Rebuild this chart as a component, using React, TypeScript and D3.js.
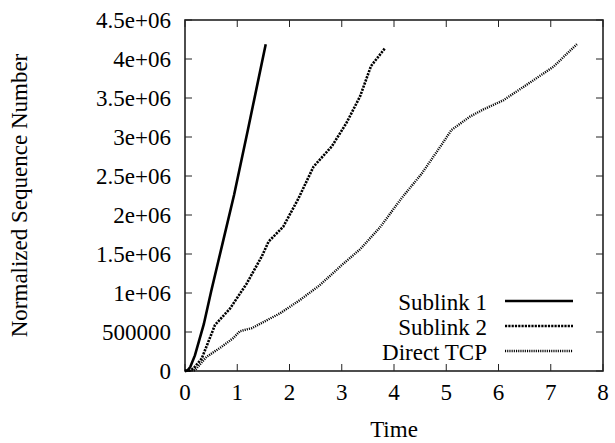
import React from "react";
import * as d3 from "d3";

const sublink1: [number, number][] = [
  [0, 0], [0.05, 10000], [0.1, 50000], [0.19, 200000], [0.36, 600000],
  [0.5, 1020000], [0.72, 1640000], [0.94, 2260000], [1.2, 3080000], [1.545, 4190000],
];
const sublink2: [number, number][] = [
  [0, 0], [0.08, 5000], [0.16, 30000], [0.32, 160000], [0.574, 590000],
  [0.86, 800000], [1.18, 1120000], [1.47, 1470000], [1.6, 1660000], [1.88, 1850000],
  [2.17, 2210000], [2.46, 2620000], [2.81, 2880000], [3.09, 3180000], [3.35, 3520000],
  [3.56, 3910000], [3.83, 4140000],
];
const directTcp: [number, number][] = [
  [0, 0], [0.19, 10000], [0.41, 180000], [0.7, 310000], [0.92, 420000], [1.05, 510000],
  [1.28, 550000], [1.82, 740000], [2.2, 910000], [2.58, 1100000], [2.97, 1340000],
  [3.35, 1560000], [3.73, 1840000], [4.15, 2220000], [4.53, 2530000], [4.91, 2900000],
  [5.1, 3090000], [5.45, 3260000], [5.7, 3350000], [6.09, 3470000], [6.54, 3670000],
  [7.05, 3900000], [7.5, 4190000],
];
const seriesNames = ["Sublink 1", "Sublink 2", "Direct TCP"];
const xTicks = [0, 1, 2, 3, 4, 5, 6, 7, 8];
const yTicks = [0, 500000, 1000000, 1500000, 2000000, 2500000, 3000000, 3500000, 4000000, 4500000];
const yTickLabels = ["0", "500000", "1e+06", "1.5e+06", "2e+06", "2.5e+06", "3e+06", "3.5e+06", "4e+06", "4.5e+06"];

const W = 615, H = 443;
const L = 185, R = 603, T = 20, B = 371;
const FONT = "Liberation Serif";
const FS = 23;

export default function App() {
  const x = d3.scaleLinear().domain([0, 8]).range([L, R]);
  const y = d3.scaleLinear().domain([0, 4500000]).range([B, T]);
  const line = d3.line<[number, number]>().x(d => x(d[0])).y(d => y(d[1]));
  const data = [sublink1, sublink2, directTcp];
  const styles = [
    { w: 2.6, dash: undefined as string | undefined },
    { w: 2.6, dash: "2.2,1.1" },
    { w: 2.4, dash: "1.1,1.1" },
  ];
  const legendY = [301, 326, 351];
  const tl = 7;
  const ts = { fontFamily: FONT, fontSize: FS };
  return (
    <svg width={W} height={H} style={{ position: "absolute", left: 0, top: 0, background: "#fff" }}>
      <rect x={0} y={0} width={W} height={H} fill="#fff" />
      {xTicks.map((t, i) => (
        <g key={"xt" + i}>
          <line x1={x(t)} x2={x(t)} y1={B} y2={B - tl} stroke="#222" strokeWidth={1} />
          <line x1={x(t)} x2={x(t)} y1={T} y2={T + tl} stroke="#222" strokeWidth={1} />
          <text x={x(t)} y={B + 29} textAnchor="middle" fill="#000" style={ts}>{t}</text>
        </g>
      ))}
      {yTicks.map((v, i) => (
        <g key={"yt" + i}>
          <line x1={L} x2={L + tl} y1={y(v)} y2={y(v)} stroke="#222" strokeWidth={1} />
          <line x1={R} x2={R - tl} y1={y(v)} y2={y(v)} stroke="#222" strokeWidth={1} />
          <text x={L - 14} y={y(v) + 8} textAnchor="end" fill="#000" style={ts}>{yTickLabels[i]}</text>
        </g>
      ))}
      <rect x={L} y={T} width={R - L} height={B - T} fill="none" stroke="#222" strokeWidth={1.6} />
      {data.map((d, i) => (
        <path key={"s" + i} d={line(d) || ""} fill="none" stroke="#000"
          strokeWidth={styles[i].w} strokeDasharray={styles[i].dash} />
      ))}
      {seriesNames.map((n, i) => (
        <g key={"lg" + i}>
          <text x={487} y={legendY[i] + 8.5} textAnchor="end" fill="#000" style={ts}>{n}</text>
          <line x1={505} x2={573} y1={legendY[i]} y2={legendY[i]} stroke="#000"
            strokeWidth={styles[i].w} strokeDasharray={styles[i].dash} />
        </g>
      ))}
      <text x={(L + R) / 2} y={437} textAnchor="middle" fill="#000" style={ts}>Time</text>
      <text transform={`translate(27,${(T + B) / 2}) rotate(-90)`} textAnchor="middle" fill="#000" style={ts}>
        Normalized Sequence Number
      </text>
    </svg>
  );
}
